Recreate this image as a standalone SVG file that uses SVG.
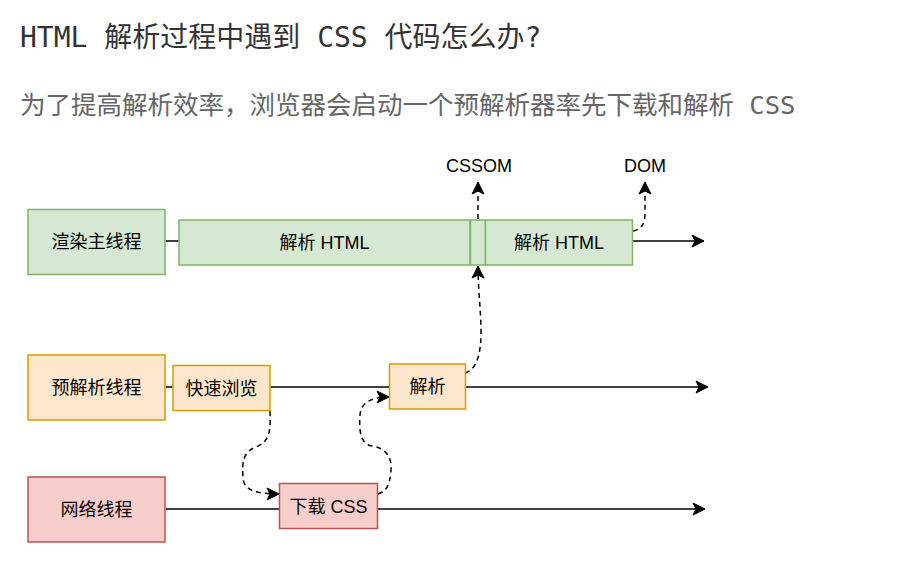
<svg xmlns="http://www.w3.org/2000/svg" width="914" height="581" viewBox="0 0 914 581">
<defs>
<style>
.t{font-family:"Liberation Sans","Noto Sans CJK SC",sans-serif;font-size:18px;fill:#000;text-anchor:middle}
.h{font-family:"DejaVu Sans Mono","Noto Sans CJK SC",monospace}
.g{fill:#d5e8d4;stroke:#82b366;stroke-width:1.5}
.o{fill:#ffe6cc;stroke:#d79b00;stroke-width:1.5}
.r{fill:#f8cecc;stroke:#b85450;stroke-width:1.5}
.ln{fill:none;stroke:#000;stroke-width:1.5}
.dl{fill:none;stroke:#000;stroke-width:1.5;stroke-dasharray:5 4}
</style>
<marker id="ah" markerUnits="userSpaceOnUse" markerWidth="14" markerHeight="14" viewBox="0 0 14 14" refX="13" refY="7" orient="auto">
<path d="M1,1 L13,7 L1,13 L4,7 Z" fill="#000" stroke="#000" stroke-width="1"/>
</marker>
</defs>
<rect width="914" height="581" fill="#fff"/>
<g id="title">
<text class="h" x="20" y="47" font-size="28" fill="#333">HTML 解析过程中遇到 CSS 代码怎么办?</text>
<text class="h" x="20" y="114" font-size="25.5" fill="#666">为了提高解析效率，浏览器会启动一个预解析器率先下载和解析 CSS</text>
</g>
<g id="connectors">
<path class="ln" d="M165.5,241 H179"/>
<path class="ln" d="M632.5,241 H704" marker-end="url(#ah)"/>
<path class="ln" d="M165.5,387 H173"/>
<path class="ln" d="M270,387 H389"/>
<path class="ln" d="M465,387 H708" marker-end="url(#ah)"/>
<path class="ln" d="M165.5,509 H279"/>
<path class="ln" d="M377.5,509 H705" marker-end="url(#ah)"/>
<path class="dl" d="M478,219 L478,182" marker-end="url(#ah)"/>
<path class="dl" d="M633,231 C642,229 645,224 645,212 L645,182" marker-end="url(#ah)"/>
<path class="dl" d="M465,373 C476,370 481,355 481,333 C481,310 478,290 478,266" marker-end="url(#ah)"/>
<path class="dl" d="M270,411 C271,435 268,442 256,447 C243,452 242,462 243,478 C244,490 255,494 279,494" marker-end="url(#ah)"/>
<path class="dl" d="M378,494 C386,492 390,485 391,470 C392,455 384,448 372,446 C360,444 359,430 360,415 C361,402 372,397 389,397" marker-end="url(#ah)"/>
</g>
<g id="render-thread">
<rect class="g" x="28" y="209.5" width="137" height="65"/>
<text class="t" x="96.5" y="248">渲染主线程</text>
</g>
<g id="parse-html-1">
<rect class="g" x="179" y="220" width="291" height="45"/>
<text class="t" x="324.5" y="249">解析 HTML</text>
</g>
<g id="cssom-bar">
<rect class="g" x="470.5" y="220" width="15" height="45"/>
</g>
<g id="parse-html-2">
<rect class="g" x="485.5" y="220" width="147" height="45"/>
<text class="t" x="559" y="249">解析 HTML</text>
</g>
<g id="cssom-label">
<text class="t" x="479" y="172">CSSOM</text>
</g>
<g id="dom-label">
<text class="t" x="645" y="172">DOM</text>
</g>
<g id="preparse-thread">
<rect class="o" x="28" y="355" width="137" height="65"/>
<text class="t" x="96.5" y="394">预解析线程</text>
</g>
<g id="quick-scan">
<rect class="o" x="173" y="365.5" width="97" height="45"/>
<text class="t" x="221.5" y="394.5">快速浏览</text>
</g>
<g id="parse">
<rect class="o" x="389.5" y="364" width="76" height="45"/>
<text class="t" x="427.5" y="393">解析</text>
</g>
<g id="network-thread">
<rect class="r" x="28" y="477" width="137" height="65"/>
<text class="t" x="96.5" y="516">网络线程</text>
</g>
<g id="download-css">
<rect class="r" x="279.5" y="483.5" width="98" height="45"/>
<text class="t" x="328.5" y="512.5">下载 CSS</text>
</g>
</svg>
